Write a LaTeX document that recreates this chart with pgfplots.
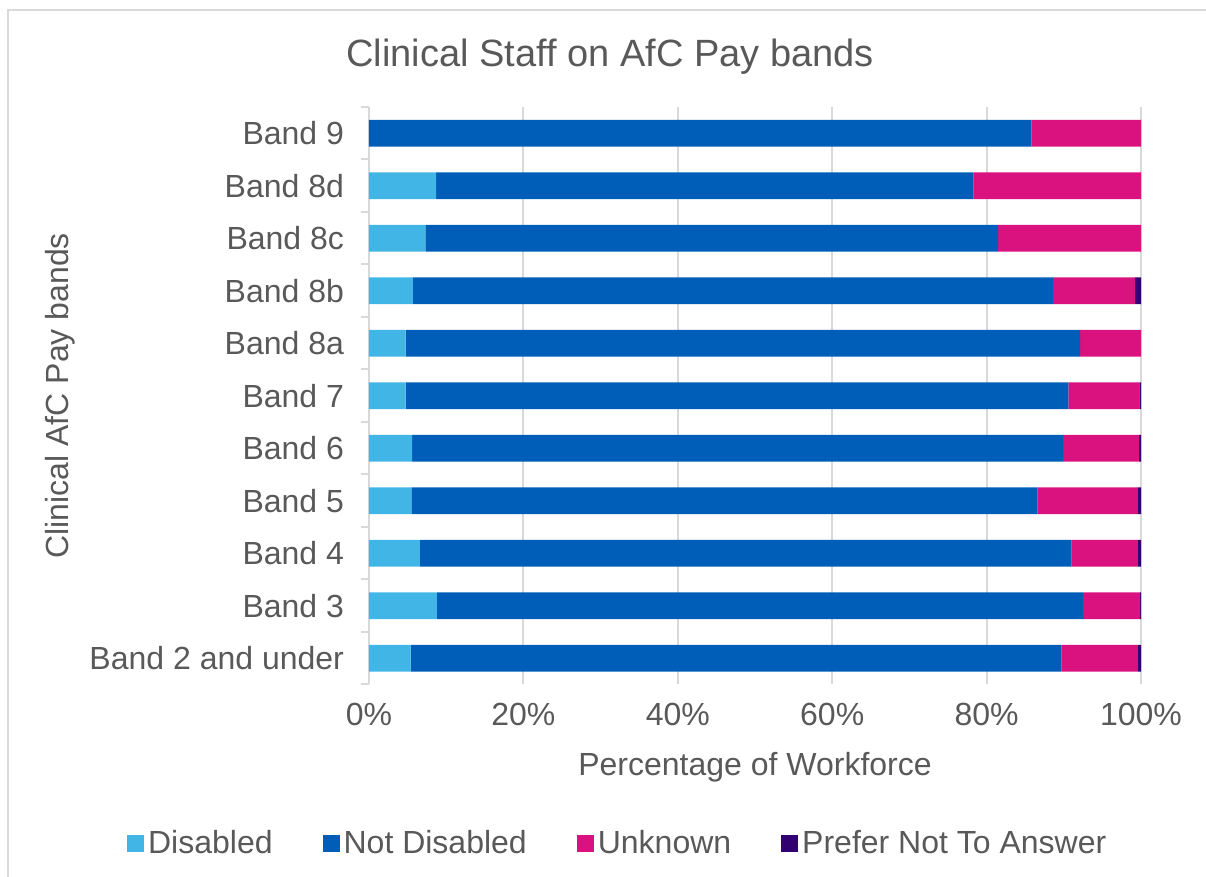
\documentclass[border=0pt]{standalone}
\usepackage{pgfplots}
\pgfplotsset{compat=1.18}
\usepackage{pgfplotstable}
\usepackage{fontspec}
\setmainfont{Liberation Sans}
\definecolor{txt}{HTML}{595959}
\definecolor{cDis}{HTML}{41B6E6}
\definecolor{cNot}{HTML}{005EB8}
\definecolor{cUnk}{HTML}{DA127F}
\definecolor{cPre}{HTML}{330072}
\definecolor{gridc}{HTML}{D9D9D9}

% y = 0 is Band 2 and under, y = 10 is Band 9
\pgfplotstableread{
y  dis   notdis unk   pref
0  5.4   84.3   9.9   0.4
1  8.8   83.7   7.4   0.1
2  6.6   84.4   8.6   0.4
3  5.5   81.1   13.0  0.4
4  5.6   84.3   9.85  0.25
5  4.75  85.85  9.2   0.2
6  4.75  87.35  7.9   0.0
7  5.7   82.9   10.6  0.8
8  7.3   74.2   18.5  0.0
9  8.7   69.6   21.7  0.0
10 0.0   85.8   14.2  0.0
}\bands

\begin{document}
\begin{tikzpicture}
\path[use as bounding box] (-184.5pt,-96.25pt) rectangle (418.5pt,342.25pt);
\draw[gridc, line width=1pt] (-180.5pt,-96.25pt) -- (-180.5pt,337.25pt) -- (418.5pt,337.25pt);
\begin{axis}[
  at={(0pt,0pt)}, anchor=south west,
  scale only axis,
  width=386pt, height=288.75pt,
  xbar stacked, bar width=13.3pt,
  xmin=0, xmax=100,
  ymin=-0.5, ymax=10.5,
  xtick={0,20,...,100},
  xticklabel={\pgfmathprintnumber{\tick}\%},
  ytick={0,...,10},
  yticklabels={Band 2 and under, Band 3, Band 4, Band 5, Band 6, Band 7,
               Band 8a, Band 8b, Band 8c, Band 8d, Band 9},
  ytick pos=left,
  extra y ticks={-0.5,0.5,...,10.5},
  extra y tick labels={},
  extra y tick style={major tick length=4pt, tick align=outside, ytick pos=left,
                      tick style={gridc, line width=1pt}},
  major tick length=0pt,
  xmajorgrids,
  grid style={gridc, line width=1pt},
  separate axis lines,
  x axis line style={draw=none},
  y axis line style={gridc, line width=1pt},
  tick label style={font=\fontsize{16}{19}\selectfont, text=txt},
  /pgf/number format/assume math mode=true,
  xticklabel style={yshift=-6pt},
  yticklabel style={xshift=-9pt},
  xlabel={Percentage of Workforce},
  ylabel={Clinical AfC Pay bands},
  label style={font=\fontsize{16}{19}\selectfont, text=txt},
  xlabel style={at={(axis description cs:0.5,-0.1429)}, anchor=center},
  ylabel style={at={(axis description cs:-0.4003,0.5)}, anchor=center},
  legend columns=4,
  legend style={at={(axis description cs:0.3235,-0.2745)}, anchor=center,
    draw=none, fill=none, font=\fontsize{16}{19}\selectfont, text=txt,
    /tikz/every even column/.append style={column sep=23pt},
    legend cell align=left},
  legend image code/.code={\fill[#1] (0pt,-4.25pt) rectangle (8.5pt,4.25pt);},
  every axis plot/.append style={draw=none},
]
\addplot[fill=cDis] table[x=dis, y=y] {\bands};
\addplot[fill=cNot] table[x=notdis, y=y] {\bands};
\addplot[fill=cUnk] table[x=unk, y=y] {\bands};
\addplot[fill=cPre] table[x=pref, y=y] {\bands};
\legend{Disabled, Not Disabled, Unknown, Prefer Not To Answer}
\end{axis}
\node[font=\fontsize{19}{23}\selectfont, text=txt] at (120.5pt,313.75pt) {Clinical Staff on AfC Pay bands};
\end{tikzpicture}
\end{document}
